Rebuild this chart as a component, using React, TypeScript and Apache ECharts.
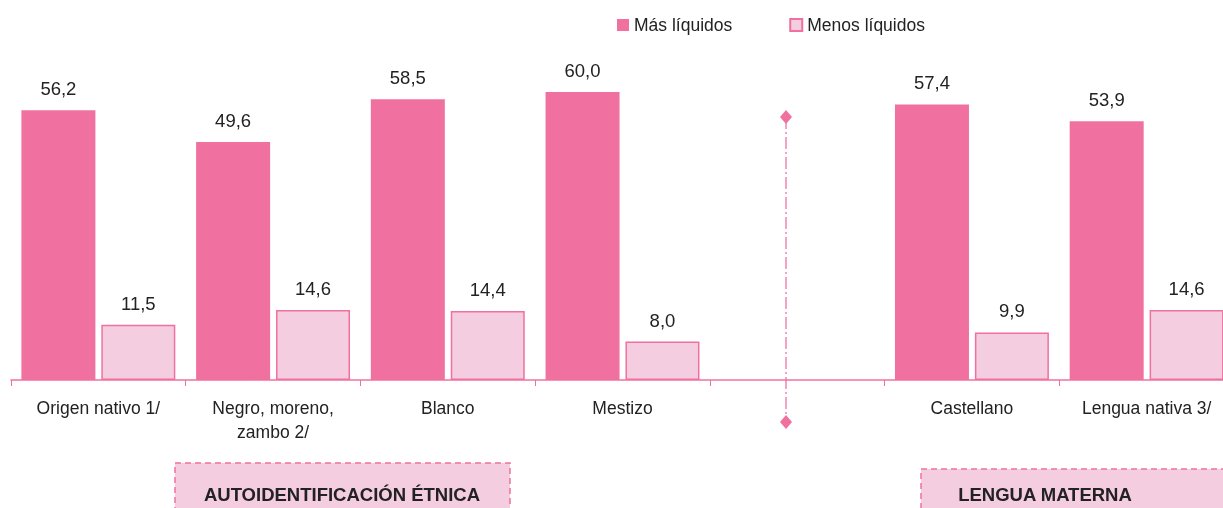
import React, { useEffect, useRef } from "react";
import * as echarts from "echarts";

const categories = ["Origen nativo 1/", "Negro, moreno,\nzambo 2/", "Blanco", "Mestizo", "", "Castellano", "Lengua nativa 3/"];
const masLiquidos = [56.2, 49.6, 58.5, 60.0, null, 57.4, 53.9];
const menosLiquidos = [11.5, 14.6, 14.4, 8.0, null, 9.9, 14.6];
const seriesNames = ["Más líquidos", "Menos líquidos"];
const groupLabels = ["AUTOIDENTIFICACIÓN ÉTNICA", "LENGUA MATERNA"];

const DARK = "#f0709f";
const LIGHT = "#f4cde0";
const FONT = "'Liberation Sans', Arial, sans-serif";

export default function App() {
  const ref = useRef<HTMLDivElement>(null);
  useEffect(() => {
    if (!ref.current) return;
    const chart = echarts.init(ref.current, null, { renderer: "svg" });
    const fmt = (p: any) => (p.value == null ? "" : Number(p.value).toFixed(1).replace(".", ","));
    const label = { show: true, position: "top", distance: 12, color: "#222", fontSize: 18.5, fontFamily: FONT, formatter: fmt };
    chart.setOption({
      animation: false,
      textStyle: { fontFamily: FONT },
      legend: {
        left: 612,
        top: 11,
        icon: "rect",
        itemWidth: 12,
        itemHeight: 12,
        itemGap: 57,
        textStyle: { fontSize: 17.5, color: "#222", fontFamily: FONT },
        data: seriesNames,
      },
      grid: { left: 11, top: 20, right: -11, bottom: 128, containLabel: false, outerBoundsMode: "none" },
      xAxis: {
        type: "category",
        data: categories,
        axisLine: { lineStyle: { color: DARK, width: 1.5 } },
        axisTick: { show: true, length: 6, lineStyle: { color: DARK } },
        axisLabel: { color: "#222", fontSize: 17.5, fontFamily: FONT, margin: 16, lineHeight: 24, interval: 0 },
      },
      yAxis: { type: "value", min: 0, max: 75, show: false, splitLine: { show: false } },
      series: [
        {
          name: seriesNames[0],
          type: "bar",
          data: masLiquidos,
          barWidth: 74,
          barGap: "8%",
          itemStyle: { color: DARK },
          label,
        },
        {
          name: seriesNames[1],
          type: "bar",
          data: menosLiquidos,
          barWidth: 74,
          itemStyle: { color: LIGHT, borderColor: DARK, borderWidth: 1.5 },
          label,
        },
      ],
      graphic: [
        {
          type: "line",
          shape: { x1: 786, y1: 117, x2: 786, y2: 422 },
          style: { stroke: "#f5a3c4", lineWidth: 2, lineDash: [12, 3, 2, 3] },
        },
        { type: "polygon", shape: { points: [[786, 110], [792, 117], [786, 124], [780, 117]] }, style: { fill: DARK } },
        { type: "polygon", shape: { points: [[786, 415], [792, 422], [786, 429], [780, 422]] }, style: { fill: DARK } },
        {
          type: "rect",
          shape: { x: 175, y: 463, width: 335, height: 60 },
          style: { fill: LIGHT, stroke: DARK, lineWidth: 1.5, lineDash: [6, 4] },
        },
        {
          type: "text",
          x: 342,
          y: 494,
          style: { text: groupLabels[0], fill: "#222", font: `bold 18.5px ${FONT}`, align: "center", verticalAlign: "middle" },
        },
        {
          type: "rect",
          shape: { x: 921, y: 469, width: 320, height: 60 },
          style: { fill: LIGHT, stroke: DARK, lineWidth: 1.5, lineDash: [6, 4] },
        },
        {
          type: "text",
          x: 1045,
          y: 494,
          style: { text: groupLabels[1], fill: "#222", font: `bold 18.5px ${FONT}`, align: "center", verticalAlign: "middle" },
        },
      ],
    });
    return () => chart.dispose();
  }, []);
  return <div ref={ref} style={{ position: "fixed", left: 0, top: 0, width: 1223, height: 508 }} />;
}
